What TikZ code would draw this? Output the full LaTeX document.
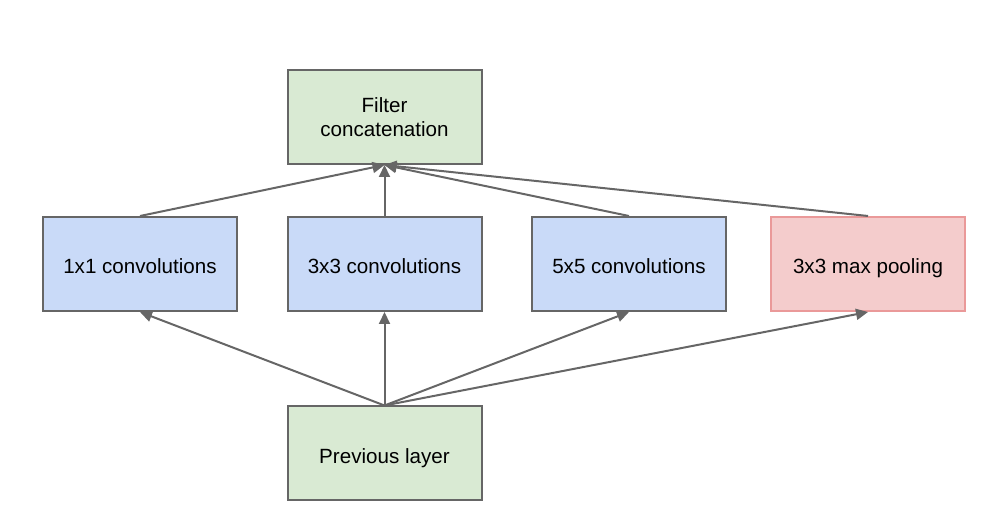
\documentclass[tikz,border=0pt]{standalone}
\usepackage{fontspec}
\setmainfont{Liberation Sans}
\usetikzlibrary{arrows.meta,positioning}

\definecolor{boxgreen}{HTML}{D9EAD3}
\definecolor{boxblue}{HTML}{C9DAF8}
\definecolor{boxpink}{HTML}{F4CCCC}
\definecolor{boxred}{HTML}{EA9999}
\definecolor{linegray}{HTML}{666666}

\begin{document}
\begin{tikzpicture}[
		layer/.style={draw=linegray, line width=1pt, rectangle, text centered, align=center, minimum width=97pt, minimum height=47pt, font=\fontsize{10.3}{12}\selectfont},
		oneline/.style={layer, text height=10pt, text depth=0pt},
		flow/.style={draw=linegray, line width=1pt, -{Triangle[length=6pt,width=5.5pt]}}
	]
		\useasboundingbox (0pt,0pt) rectangle (498pt,-261pt);

		\node (concat) [layer, fill=boxgreen] at (192.25pt,-58.5pt) {Filter\\concatenation};
		\node (conv3) [oneline, fill=boxblue] at (192.25pt,-132pt) {3x3 convolutions};
		\node (conv1) [oneline, fill=boxblue] at (70pt,-132pt) {1x1 convolutions};
		\node (conv5) [oneline, fill=boxblue] at (314.5pt,-132pt) {5x5 convolutions};
		\node (pool) [oneline, fill=boxpink, draw=boxred] at (434pt,-132pt) {3x3 max pooling};
		\node (prev) [oneline, fill=boxgreen] at (192.25pt,-226.75pt) {Previous layer};

		\draw [flow] (conv1.north) -- (concat.south);
		\draw [flow] (conv3.north) -- (concat.south);
		\draw [flow] (conv5.north) -- (concat.south);
		\draw [flow] (pool.north) -- (concat.south);

		\draw [flow] (prev.north) -- (conv1.south);
		\draw [flow] (prev.north) -- (conv3.south);
		\draw [flow] (prev.north) -- (conv5.south);
		\draw [flow] (prev.north) -- (pool.south);
	\end{tikzpicture}
\end{document}
